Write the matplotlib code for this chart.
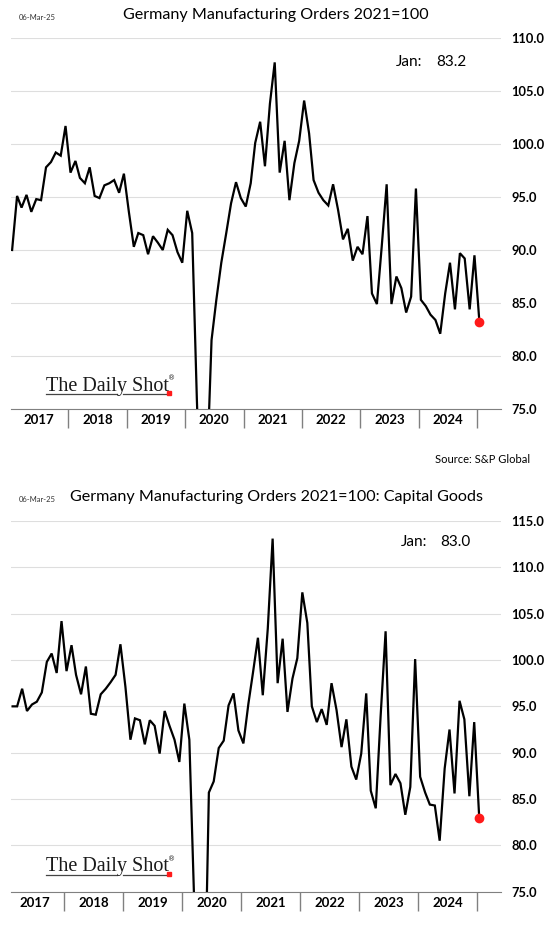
import matplotlib
matplotlib.use('Agg')
import matplotlib.pyplot as plt
from matplotlib.lines import Line2D
import pandas as pd

plt.rcParams['font.family'] = ['Lato', 'DejaVu Sans']

# monthly index values
orders_dates = pd.date_range('2017-01-01', '2025-01-01', freq='MS') + pd.Timedelta(days=14)
orders = [
    90.0, 95.1, 94.0, 95.2, 93.6, 94.8, 94.7, 97.8, 98.3, 99.2, 98.9, 101.7,
    97.3, 98.4, 96.8, 96.3, 97.8, 95.1, 94.9, 96.1, 96.3, 96.6, 95.4, 97.2,
    93.6, 90.3, 91.6, 91.4, 89.6, 91.3, 90.7, 90.0, 91.9, 91.4, 89.8, 88.8,
    93.7, 91.6, 76.0, 62.0, 68.0, 81.5, 85.3, 88.8, 91.6, 94.4, 96.4, 94.9,
    94.1, 96.3, 100.1, 102.1, 97.9, 103.8, 107.7, 97.3, 100.3, 94.7, 98.2, 100.3,
    104.1, 101.0, 96.6, 95.4, 94.7, 94.2, 96.2, 93.8, 91.0, 92.0, 89.0, 90.3,
    89.6, 93.2, 85.9, 84.9, 90.3, 96.2, 84.9, 87.5, 86.4, 84.1, 85.6, 95.8,
    85.3, 84.7, 83.9, 83.4, 82.1, 85.9, 88.8, 84.4, 89.7, 89.2, 84.4, 89.5,
    83.2,
]

capital_dates = pd.date_range('2017-02-01', '2025-01-01', freq='MS') + pd.Timedelta(days=14)
capital = [
    95.0, 95.0, 96.9, 94.5, 95.2, 95.5, 96.5, 99.8, 100.7, 98.6, 104.2,
    98.8, 101.6, 98.4, 96.3, 99.3, 94.2, 94.1, 96.3, 96.9, 97.6, 98.4, 101.7,
    97.1, 91.4, 93.7, 93.5, 90.9, 93.5, 92.9, 89.9, 94.5, 92.9, 91.4, 89.0,
    95.3, 91.4, 74.5, 52.0, 58.0, 85.7, 86.9, 90.5, 91.3, 95.1, 96.4, 92.4,
    91.0, 95.3, 98.6, 102.4, 96.2, 103.4, 113.1, 97.5, 102.3, 94.4, 98.0, 100.2,
    107.3, 104.0, 95.0, 93.3, 94.7, 93.0, 97.5, 94.6, 90.6, 93.6, 88.5, 87.1,
    89.9, 96.4, 85.9, 84.0, 93.9, 103.1, 86.5, 87.7, 86.7, 83.3, 86.3, 100.1,
    87.4, 85.7, 84.4, 84.3, 80.5, 88.3, 92.5, 85.6, 95.6, 93.6, 85.3, 93.3,
    83.0,
]

years = [2017, 2018, 2019, 2020, 2021, 2022, 2023, 2024]
orders_ticks = [75, 80, 85, 90, 95, 100, 105, 110]
capital_ticks = [75, 80, 85, 90, 95, 100, 105, 110, 115]

W, H = 560, 950
fig = plt.figure(figsize=(W / 100, H / 100), dpi=100)


def px(x, y):
    return x / W, 1 - y / H


def panel(rect, dates, values, yticks, left_day, title, title_y, latest, jan_x, jan_y):
    ax = fig.add_axes(rect)
    ax.plot(dates, values, color='black', lw=1.6, solid_joinstyle='miter', zorder=3)
    ax.plot(dates[-1], values[-1], 'o', color='#ff1a1a', ms=6, zorder=4)
    ax.set_ylim(yticks[0], yticks[-1])
    ax.set_xlim(pd.Timestamp('2017-01-01') + pd.Timedelta(days=left_day),
                pd.Timestamp('2025-05-30'))
    ax.yaxis.tick_right()
    ax.set_yticks(yticks)
    ax.set_yticklabels([f'{v:.1f}' for v in yticks], fontsize=9.3, fontweight='bold')
    ax.tick_params(axis='y', length=0, pad=7.5)
    ax.grid(axis='y', color='#dedede', lw=0.8)
    ax.set_xticks([pd.Timestamp(f'{y + 1}-01-01') for y in years])
    ax.set_xticklabels([])
    ax.tick_params(axis='x', direction='out', length=14, width=1, color='#808080')
    for s in ['top', 'left', 'right']:
        ax.spines[s].set_visible(False)
    ax.spines['bottom'].set_color('#808080')
    ax.set_axisbelow(True)
    for y in years:
        ax.text(pd.Timestamp(f'{y}-07-02'), -0.03, str(y), transform=ax.get_xaxis_transform(),
                ha='center', va='center', fontsize=9.5, fontweight='bold')
    ax.text(jan_x, jan_y, 'Jan:', transform=ax.transAxes, fontsize=11, va='center')
    ax.text(jan_x + 0.081, jan_y, f'{latest:.1f}', transform=ax.transAxes, fontsize=11, va='center')
    fig.text(*px(276, title_y), title, ha='center', va='center', fontsize=11.6)
    fig.text(*px(19, title_y + 2), '06-Mar-25', ha='left', va='center', fontsize=5.5, color='#333333')
    return ax


def logo(base_y):
    fig.text(*px(46, base_y), 'The Daily Shot', family='Liberation Serif', fontsize=14.5,
             va='baseline', ha='left', color='#1a1a1a')
    fig.text(*px(168, base_y - 10), '®', family='DejaVu Sans', fontsize=5, va='baseline', color='#1a1a1a')
    for x0, x1 in [(46, 117), (123, 166)]:
        fig.add_artist(Line2D([x0 / W, x1 / W], [1 - (base_y + 3) / H] * 2, color='#444444', lw=0.9))
    fig.add_artist(Line2D([169 / W], [1 - (base_y + 2.5) / H], marker='s', ms=3, color='#ff1a1a', lw=0))


panel([11 / W, 1 - 409 / H, 490 / W, 371 / H], orders_dates, orders, orders_ticks, 7,
      'Germany Manufacturing Orders 2021=100', 15, orders[-1], 0.786, 0.935)
logo(390.5)
fig.text(*px(530, 460), 'Source: S&P Global', ha='right', va='center', fontsize=8)

panel([11 / W, 1 - 891.7 / H, 490 / W, 370.7 / H], capital_dates, capital, capital_ticks, 35,
      'Germany Manufacturing Orders 2021=100: Capital Goods', 497, capital[-1], 0.796, 0.944)
logo(871.5)

fig.savefig('out.png', dpi=100, facecolor='white')
